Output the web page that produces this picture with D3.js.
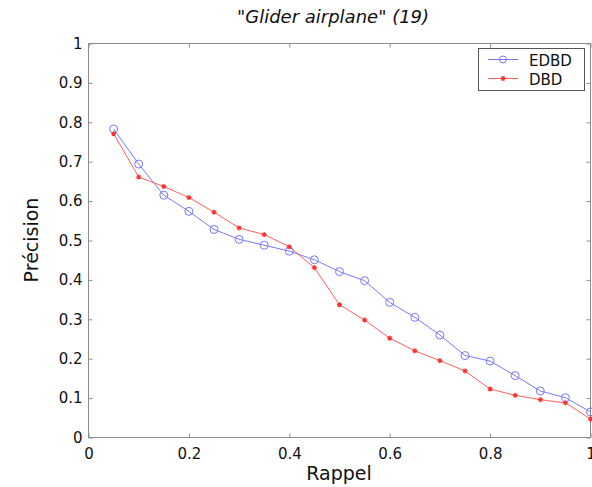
<!DOCTYPE html>
<html><head><meta charset="utf-8">
<script src="https://cdn.jsdelivr.net/npm/d3@7"></script>
<style>body{margin:0;background:#fff}svg{display:block}</style>
</head><body><svg id="c" width="592" height="487"></svg>
<script>
const recall = [0.05,0.1,0.15,0.2,0.25,0.3,0.35,0.4,0.45,0.5,0.55,0.6,0.65,0.7,0.75,0.8,0.85,0.9,0.95,1.0];
const edbd = [0.783,0.694,0.615,0.574,0.528,0.503,0.488,0.473,0.451,0.421,0.398,0.343,0.305,0.26,0.208,0.194,0.157,0.118,0.101,0.065];
const dbd  = [0.771,0.661,0.637,0.609,0.572,0.532,0.515,0.484,0.431,0.337,0.298,0.252,0.22,0.195,0.169,0.123,0.107,0.096,0.088,0.047];
const xTicks = [0,0.2,0.4,0.6,0.8,1];
const yTicks = [0,0.1,0.2,0.3,0.4,0.5,0.6,0.7,0.8,0.9,1];
const title = '"Glider airplane" (19)';
const xLabel = "Rappel", yLabel = "Précision";

const svg = d3.select("#c");
const L=88.5, R=590.5, T=43.5, B=437.5;
const x = d3.scaleLinear().domain([0,1]).range([L,R]);
const y = d3.scaleLinear().domain([0,1]).range([B,T]);
const font = "DejaVu Sans, Verdana, sans-serif";
const axisCol = "#8c8c8c";
const tk = 4;

svg.append("rect").attr("x",L).attr("y",T).attr("width",R-L).attr("height",B-T)
  .attr("fill","none").attr("stroke",axisCol).attr("stroke-width",1);

const fmt = d => d===0?"0":d===1?"1":d3.format(".1f")(d);
const gx = svg.append("g").attr("transform",`translate(0,${B})`)
  .call(d3.axisBottom(x).tickValues(xTicks).tickFormat(fmt).tickSize(-tk).tickPadding(8));
const gxt = svg.append("g").attr("transform",`translate(0,${T})`)
  .call(d3.axisTop(x).tickValues(xTicks).tickFormat("").tickSize(-tk));
const gy = svg.append("g").attr("transform",`translate(${L},0)`)
  .call(d3.axisLeft(y).tickValues(yTicks).tickFormat(fmt).tickSize(-tk).tickPadding(6));
const gyr = svg.append("g").attr("transform",`translate(${R},0)`)
  .call(d3.axisRight(y).tickValues(yTicks).tickFormat("").tickSize(-tk));
[gx,gxt,gy,gyr].forEach(g=>{
  g.select(".domain").remove();
  g.selectAll(".tick line").attr("stroke",axisCol);
  g.selectAll("text").attr("fill","#111").style("font-family",font).style("font-size","15px");
});
gx.selectAll("text").attr("dy","0.9em");

svg.append("text").attr("x",333).attr("y",23).attr("text-anchor","middle")
  .style("font-family",font).style("font-size","18px").style("font-style","italic").attr("fill","#111").text(title);
svg.append("text").attr("x",339).attr("y",480).attr("text-anchor","middle")
  .style("font-family",font).style("font-size","19px").attr("fill","#111").text(xLabel);
svg.append("text").attr("transform","translate(38,240) rotate(-90)").attr("text-anchor","middle")
  .style("font-family",font).style("font-size","19px").attr("fill","#111").text(yLabel);

const blue="#7878ff", red="#ff5f5f";
const line = d3.line().x(d=>x(d[0])).y(d=>y(d[1]));
const sE = recall.map((r,i)=>[r,edbd[i]]);
const sD = recall.map((r,i)=>[r,dbd[i]]);
svg.append("path").datum(sE).attr("d",line).attr("fill","none").attr("stroke",blue).attr("stroke-width",1);
svg.append("path").datum(sD).attr("d",line).attr("fill","none").attr("stroke",red).attr("stroke-width",1);
svg.selectAll(".ce").data(sE).join("circle").attr("cx",d=>x(d[0])).attr("cy",d=>y(d[1])).attr("r",4)
  .attr("fill","none").attr("stroke",blue).attr("stroke-width",1);
function drawStar(g,cx,cy){
  const s=2.5;
  g.append("path").attr("d",`M${cx-s},${cy}H${cx+s}M${cx},${cy-s}V${cy+s}M${cx-s*0.7},${cy-s*0.7}L${cx+s*0.7},${cy+s*0.7}M${cx-s*0.7},${cy+s*0.7}L${cx+s*0.7},${cy-s*0.7}`)
   .attr("stroke","#ff3030").attr("stroke-width",1.2).attr("fill","none");
}
const gs = svg.append("g");
sD.forEach(d=>drawStar(gs,x(d[0]),y(d[1])));

const lg = svg.append("g");
lg.append("rect").attr("x",478.5).attr("y",48.5).attr("width",106).attr("height",42)
  .attr("fill","#fff").attr("stroke","#555").attr("stroke-width",1);
lg.append("line").attr("x1",488).attr("x2",518).attr("y1",59.5).attr("y2",59.5).attr("stroke",blue);
lg.append("circle").attr("cx",503).attr("cy",59.5).attr("r",3.5).attr("fill","none").attr("stroke",blue);
lg.append("line").attr("x1",488).attr("x2",518).attr("y1",78.5).attr("y2",78.5).attr("stroke",red);
drawStar(lg,503,78.5);
lg.append("text").attr("x",529).attr("y",65.5).style("font-family",font).style("font-size","15px").attr("fill","#111").text("EDBD");
lg.append("text").attr("x",529).attr("y",84.5).style("font-family",font).style("font-size","15px").attr("fill","#111").text("DBD");
</script></body></html>
